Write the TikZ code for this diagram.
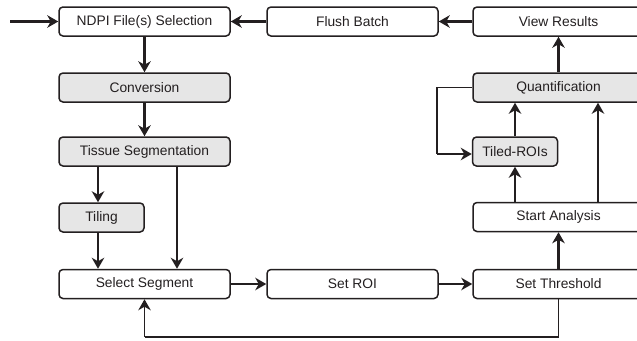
\documentclass[tikz,border=0pt]{standalone}
\usepackage{fontspec}
\setmainfont{Liberation Sans}
\usetikzlibrary{arrows.meta}
\definecolor{boxgray}{HTML}{E6E6E6}
\definecolor{ink}{HTML}{231F20}
\tikzset{
  box/.style={draw=ink, line width=1.5pt, rounded corners=4pt, minimum width=171pt, minimum height=29pt, inner sep=0pt, font=\fontsize{13.8}{15}\selectfont, text=ink},
  graybox/.style={box, fill=boxgray},
  smallbox/.style={minimum width=85pt},
  arr/.style={draw=ink, line width=2.3pt, -{Stealth[length=11pt,width=12.5pt,inset=3.5pt]}},
  thin/.style={draw=ink, line width=1.4pt},
  thinarr/.style={draw=ink, line width=1.4pt, -{Stealth[length=11pt,width=12.5pt,inset=3.5pt]}}
}
\begin{document}
\begin{tikzpicture}[x=1pt,y=-1pt]
\useasboundingbox (0,0) rectangle (637,340);
\node[box] (ndpi) at (144.5,21.5) {NDPI File(s) Selection};
\node[box] (flush) at (352.5,21.5) {Flush Batch};
\node[box] (view) at (558.5,21.5) {View Results};
\node[graybox] (conv) at (144.5,87.5) {Conversion};
\node[graybox] (tissue) at (144.5,151.5) {Tissue Segmentation};
\node[graybox, smallbox] (tiling) at (101.5,217.5) {Tiling};
\node[box] (select) at (144.5,284) {Select Segment};
\node[box] (roi) at (352.5,284) {Set ROI};
\node[box] (thresh) at (558.5,284) {Set Threshold};
\node[box] (start) at (558.5,217) {Start Analysis};
\node[graybox] (quant) at (558.5,87.5) {Quantification};
\node[graybox, smallbox] (tiled) at (515,151.5) {Tiled-ROIs};
\coordinate (in) at (10,21.5);
\coordinate (qc) at (437,87.5);
\coordinate (qd) at (437,154);
\coordinate (tc) at (558.5,337);
\coordinate (sc) at (144.5,337);
\draw[arr] (in) -- (ndpi.west);
\draw[arr] (flush.west) -- (ndpi.east);
\draw[arr] (view.west) -- (flush.east);
\draw[arr] (ndpi.south) -- (conv.north);
\draw[arr] (conv.south) -- (tissue.north);
\draw[arr] ([xshift=-46.5pt]tissue.south) -- ([xshift=-3.5pt]tiling.north);
\draw[arr] ([xshift=-3.5pt]tiling.south) -- ([xshift=-46.5pt]select.north);
\draw[arr] ([xshift=32.5pt]tissue.south) -- ([xshift=32.5pt]select.north);
\draw[arr] (select.east) -- (roi.west);
\draw[arr] (roi.east) -- (thresh.west);
\draw[arr] (thresh.north) -- (start.south);
\draw[arr] ([xshift=-43.5pt]start.north) -- (tiled.south);
\draw[arr] ([xshift=39.5pt]start.north) -- ([xshift=39.5pt]quant.south);
\draw[arr] (tiled.north) -- ([xshift=-43.5pt]quant.south);
\draw[arr] (quant.north) -- (view.south);
\draw[thin] (quant.west) -- (qc) -- (qd);
\draw[thinarr] (qd) -- ([yshift=-2.5pt]tiled.west);
\draw[thin] (thresh.south) -- (tc) -- (sc);
\draw[thinarr] (sc) -- (select.south);
\end{tikzpicture}
\end{document}
